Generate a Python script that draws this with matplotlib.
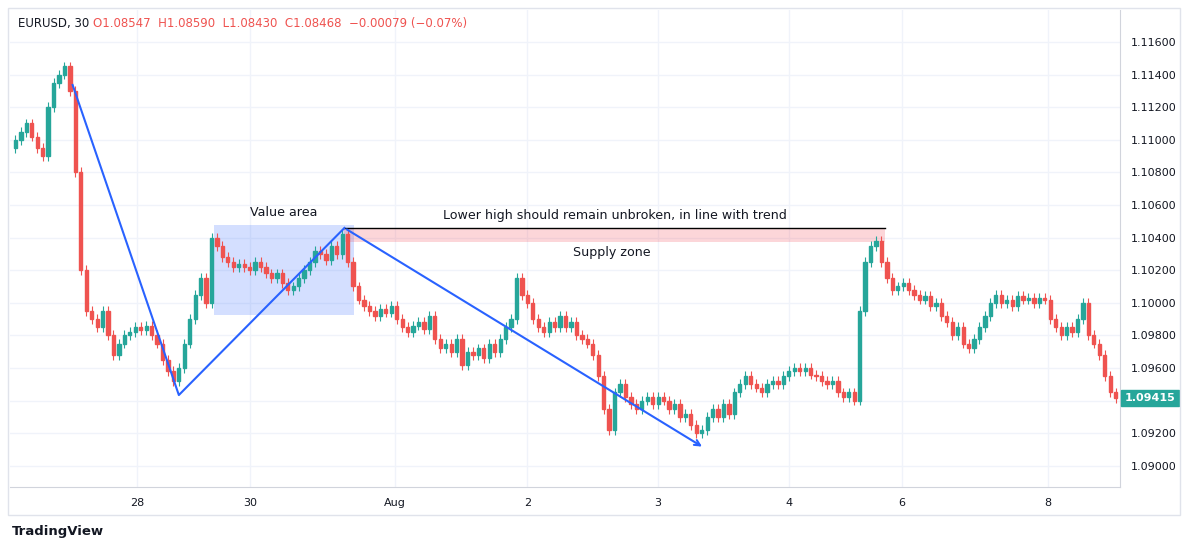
import matplotlib
matplotlib.use("Agg")
import matplotlib.pyplot as plt
from matplotlib.patches import Rectangle

closes = [1.1100,1.1105,1.1110,1.1102,1.1095,1.1090,1.1120,1.1135,1.1140,1.1145,
1.1130,1.1080,1.1020,1.0995,1.0990,1.0985,1.0995,1.0980,1.0968,1.0975,
1.0980,1.0982,1.0985,1.0983,1.0986,1.0980,1.0975,1.0965,1.0958,1.0952,
1.0960,1.0975,1.0990,1.1005,1.1015,1.1000,1.1040,1.1035,1.1028,1.1025,
1.1022,1.1024,1.1022,1.1020,1.1025,1.1022,1.1018,1.1015,1.1018,1.1012,
1.1008,1.1010,1.1015,1.1020,1.1025,1.1032,1.1030,1.1026,1.1035,1.1030,
1.1042,1.1025,1.1010,1.1002,1.0998,1.0995,1.0992,1.0996,1.0994,1.0998,
1.0990,1.0985,1.0982,1.0986,1.0988,1.0984,1.0992,1.0978,1.0972,1.0975,
1.0970,1.0978,1.0962,1.0970,1.0968,1.0972,1.0966,1.0975,1.0970,1.0978,
1.0985,1.0990,1.1015,1.1005,1.1000,1.0990,1.0985,1.0982,1.0988,1.0985,
1.0992,1.0985,1.0988,1.0980,1.0978,1.0975,1.0968,1.0955,1.0935,1.0922,
1.0945,1.0950,1.0942,1.0938,1.0935,1.0940,1.0942,1.0938,1.0942,1.0940,
1.0935,1.0938,1.0930,1.0932,1.0925,1.0920,1.0922,1.0930,1.0935,1.0930,
1.0938,1.0932,1.0945,1.0950,1.0955,1.0950,1.0948,1.0945,1.0950,1.0952,
1.0950,1.0955,1.0958,1.0960,1.0958,1.0960,1.0956,1.0955,1.0952,1.0950,
1.0952,1.0945,1.0942,1.0945,1.0940,1.0995,1.1025,1.1035,1.1038,1.1025,
1.1015,1.1008,1.1010,1.1012,1.1008,1.1005,1.1002,1.1004,1.0998,1.1000,
1.0992,1.0988,1.0980,1.0985,1.0975,1.0972,1.0978,1.0985,1.0992,1.1000,
1.1005,1.1000,1.1002,1.0998,1.1004,1.1002,1.1003,1.1000,1.1003,1.1002,
1.0990,1.0985,1.0980,1.0985,1.0982,1.0990,1.1000,1.0980,1.0975,1.0968,
1.0955,1.0945,1.09415]
first_open = 1.1095
wick = 0.0003

day_ticks = [22.4, 43.1, 69.6, 94, 118, 142, 162.7, 189.6]
day_labels = ["28", "30", "Aug", "2", "3", "4", "6", "8"]
price_ticks = [1.090 + 0.002*k for k in range(14)]

trend_x = [10.5, 30, 60.4, 126.5]
trend_y = [1.11336, 1.09434, 1.10459, 1.09109]

UP, DN = "#26a69a", "#ef5350"
fig = plt.figure(figsize=(11.89, 5.49), dpi=100)
ax = fig.add_axes([10/1189, 62/549, 1110/1189, 477/549])
ax.set_xlim(-1, 202.8)
ax.set_ylim(1.0887, 1.11796)
ax.grid(color="#f0f3fa", lw=1)
ax.set_axisbelow(True)

opens = [first_open] + closes[:-1]
for i, (o, c) in enumerate(zip(opens, closes)):
    col = UP if c >= o else DN
    ax.vlines(i, min(o, c) - wick, max(o, c) + wick, color=col, lw=0.8, zorder=2)
    ax.add_patch(Rectangle((i-0.3, min(o, c)), 0.6, max(abs(c-o), 0.00003), color=col, zorder=3))

ax.add_patch(Rectangle((36.4, 1.09925), 25.8, 1.10477-1.09925, color="#2962ff", alpha=0.2, lw=0, zorder=1))
ax.add_patch(Rectangle((60.4, 1.10373), 99.3, 1.10459-1.10373, color="#f23645", alpha=0.2, lw=0, zorder=1))
ax.plot([60.4, 159.7], [1.10459, 1.10459], color="black", lw=1, zorder=4)
ax.plot(trend_x[:3], trend_y[:3], color="#2962ff", lw=1.5, zorder=5)
ax.annotate("", xy=(trend_x[3], trend_y[3]), xytext=(trend_x[2], trend_y[2]),
            arrowprops=dict(arrowstyle="->", color="#2962ff", lw=1.5), zorder=5)
ax.text(49.3, 1.10551, "Value area", ha="center", va="center", fontsize=9.1, color="#131722")
ax.text(110, 1.10533, "Lower high should remain unbroken, in line with trend", ha="center", va="center", fontsize=9.1, color="#131722")
ax.text(109.5, 1.10306, "Supply zone", ha="center", va="center", fontsize=9.1, color="#131722")

ax.set_xticks(day_ticks)
ax.set_xticklabels(day_labels, fontsize=8, color="#131722")
ax.yaxis.tick_right()
ax.set_yticks(price_ticks)
ax.set_yticklabels(["" if abs(p-1.094) < 1e-9 else f"{p:.5f}" for p in price_ticks], fontsize=8, color="#131722")
ax.tick_params(length=0, pad=8)
for s in ["top", "left"]:
    ax.spines[s].set_visible(False)
for s in ["right", "bottom"]:
    ax.spines[s].set_color("#d1d4dc")
ax.text(1.004, 1.09415, "1.09415", transform=ax.get_yaxis_transform(), ha="left", va="center",
        fontsize=8, color="white", fontweight="bold",
        bbox=dict(boxstyle="square,pad=0.3", fc=UP, ec=UP))

fig.text(18/1189, 1-24/549, "EURUSD, 30", fontsize=8.5, color="#131722", va="center")
fig.text(93/1189, 1-24/549, "O1.08547  H1.08590  L1.08430  C1.08468  \u22120.00079 (\u22120.07%)",
         fontsize=8.5, color=DN, va="center")
fig.text(12/1189, 1-532/549, "TradingView", fontsize=9.5, color="#131722", va="center", fontweight="bold")
fig.add_artist(Rectangle((8/1189, 1-515/549), 1172/1189, 507/549, transform=fig.transFigure,
                         fill=False, ec="#e0e3eb", lw=1))
fig.savefig("out.png", dpi=100)
